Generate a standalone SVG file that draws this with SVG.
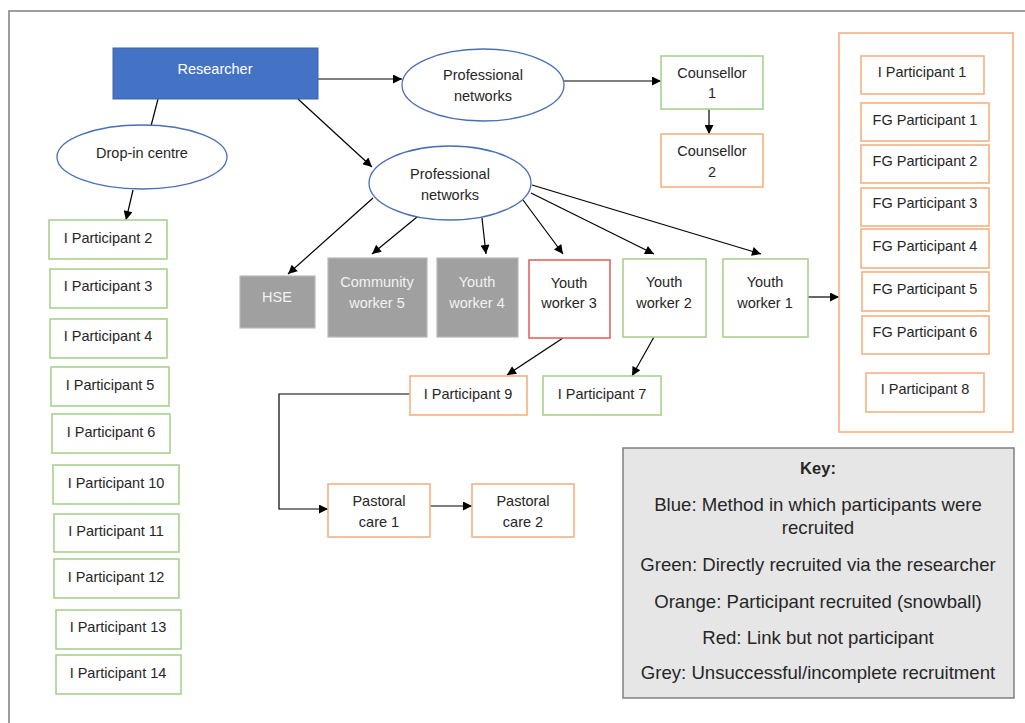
<svg xmlns="http://www.w3.org/2000/svg" width="1025" height="723" viewBox="0 0 1025 723">
<style>
text{font-family:"Liberation Sans",Arial,sans-serif;font-size:14.5px;fill:#262626;text-anchor:middle}
.g{fill:#fff;stroke:#A9D18E;stroke-width:1.6}
.o{fill:#fff;stroke:#F4B183;stroke-width:1.6}
.r{fill:#fff;stroke:#E06666;stroke-width:1.6}
.gr{fill:#A0A0A0;stroke:#B8B8B8;stroke-width:1.2}
.el{fill:#fff;stroke:#4A6FB5;stroke-width:1.3}
.wt{fill:#F2F2F2}
.key{font-size:18.6px}
.c line,.c path{stroke:#000;stroke-width:1.2;fill:none}
.a{marker-end:url(#ah)}
</style>
<defs>
<marker id="ah" viewBox="0 0 10 10" refX="10" refY="5" markerWidth="11" markerHeight="9" markerUnits="userSpaceOnUse" orient="auto">
<path d="M0,0 L10,5 L0,10 z" fill="#000"/>
</marker>
</defs>
<rect x="0" y="0" width="1025" height="723" fill="#fff"/>
<rect x="9" y="11" width="1040" height="730" fill="none" stroke="#7F7F7F" stroke-width="1.5"/>

<g class="c" id="connectors">
<line x1="158" y1="99" x2="151" y2="126"/>
<line class="a" x1="133" y1="190" x2="126" y2="220"/>
<line class="a" x1="318" y1="79" x2="402" y2="79"/>
<line class="a" x1="564" y1="81" x2="661" y2="81"/>
<line class="a" x1="709" y1="109" x2="709" y2="134"/>
<line class="a" x1="298" y1="99" x2="372" y2="167"/>
<line class="a" x1="373" y1="198" x2="288" y2="274"/>
<line class="a" x1="417" y1="217" x2="372" y2="254"/>
<line class="a" x1="482" y1="218" x2="486" y2="254"/>
<line class="a" x1="523" y1="200" x2="563" y2="254"/>
<line class="a" x1="531" y1="193" x2="654" y2="254"/>
<line class="a" x1="532" y1="185" x2="761" y2="254"/>
<line class="a" x1="808" y1="297" x2="839" y2="297"/>
<line class="a" x1="563" y1="338" x2="507" y2="375"/>
<line class="a" x1="654" y1="337" x2="632" y2="376"/>
<path class="a" d="M410,394 H279 V509 H328"/>
<line class="a" x1="430" y1="506" x2="472" y2="506"/>
</g>

<g id="researcher"><rect x="113" y="48" width="205" height="51" fill="#4472C4" stroke="#3B64AD" stroke-width="1"/><text x="215" y="74" style="fill:#fff">Researcher</text></g>
<g id="dropin"><ellipse class="el" cx="142" cy="157" rx="85" ry="32"/><text x="142" y="158">Drop-in centre</text></g>
<g id="pn1"><ellipse class="el" cx="483" cy="85" rx="81" ry="36"/><text x="483" y="80">Professional</text><text x="483" y="101">networks</text></g>
<g id="pn2"><ellipse class="el" cx="450" cy="183" rx="81" ry="37"/><text x="450" y="179">Professional</text><text x="450" y="200">networks</text></g>

<g id="counsellor1"><rect class="g" x="661" y="56" width="102" height="53"/><text x="712" y="78">Counsellor</text><text x="712" y="98">1</text></g>
<g id="counsellor2"><rect class="o" x="661" y="134" width="102" height="53"/><text x="712" y="156">Counsellor</text><text x="712" y="177">2</text></g>

<g id="container"><rect class="o" x="839" y="33" width="174" height="399"/></g>
<g id="ip1"><rect class="o" x="861" y="56" width="123" height="38"/><text x="922" y="77">I Participant 1</text></g>
<g id="fg1"><rect class="o" x="861" y="103" width="128" height="38"/><text x="925" y="125">FG Participant 1</text></g>
<g id="fg2"><rect class="o" x="861" y="145" width="128" height="38"/><text x="925" y="166">FG Participant 2</text></g>
<g id="fg3"><rect class="o" x="861" y="188" width="128" height="38"/><text x="925" y="208">FG Participant 3</text></g>
<g id="fg4"><rect class="o" x="861" y="229" width="128" height="39"/><text x="925" y="251">FG Participant 4</text></g>
<g id="fg5"><rect class="o" x="862" y="272" width="127" height="39"/><text x="925" y="294">FG Participant 5</text></g>
<g id="fg6"><rect class="o" x="862" y="316" width="127" height="38"/><text x="925" y="337">FG Participant 6</text></g>
<g id="ip8"><rect class="o" x="866" y="373" width="118" height="39"/><text x="925" y="394">I Participant 8</text></g>

<g id="hse"><rect class="gr" x="240" y="276" width="75" height="52"/><text class="wt" x="277" y="302">HSE</text></g>
<g id="cw5"><rect class="gr" x="328" y="258" width="99" height="79"/><text class="wt" x="377" y="287">Community</text><text class="wt" x="377" y="308">worker 5</text></g>
<g id="yw4"><rect class="gr" x="437" y="258" width="81" height="79"/><text class="wt" x="477" y="287">Youth</text><text class="wt" x="477" y="308">worker 4</text></g>
<g id="yw3"><rect class="r" x="529" y="260" width="81" height="78"/><text x="569" y="288">Youth</text><text x="569" y="308">worker 3</text></g>
<g id="yw2"><rect class="g" x="623" y="259" width="83" height="78"/><text x="664" y="287">Youth</text><text x="664" y="308">worker 2</text></g>
<g id="yw1"><rect class="g" x="723" y="259" width="85" height="78"/><text x="765" y="287">Youth</text><text x="765" y="308">worker 1</text></g>

<g id="ip9"><rect class="o" x="410" y="376" width="117" height="39"/><text x="468" y="399">I Participant 9</text></g>
<g id="ip7"><rect class="g" x="543" y="376" width="118" height="39"/><text x="602" y="399">I Participant 7</text></g>
<g id="pc1"><rect class="o" x="328" y="484" width="102" height="53"/><text x="379" y="506">Pastoral</text><text x="379" y="527">care 1</text></g>
<g id="pc2"><rect class="o" x="472" y="484" width="102" height="53"/><text x="523" y="506">Pastoral</text><text x="523" y="527">care 2</text></g>

<g id="ip2"><rect class="g" x="49" y="220" width="118" height="39"/><text x="108" y="243">I Participant 2</text></g>
<g id="ip3"><rect class="g" x="50" y="269" width="117" height="39"/><text x="108" y="291">I Participant 3</text></g>
<g id="ip4"><rect class="g" x="50" y="319" width="117" height="39"/><text x="108" y="341">I Participant 4</text></g>
<g id="ip5"><rect class="g" x="51" y="367" width="118" height="39"/><text x="110" y="390">I Participant 5</text></g>
<g id="ip6"><rect class="g" x="52" y="414" width="118" height="39"/><text x="111" y="437">I Participant 6</text></g>
<g id="ip10"><rect class="g" x="53" y="465" width="126" height="39"/><text x="116" y="488">I Participant 10</text></g>
<g id="ip11"><rect class="g" x="54" y="514" width="125" height="38"/><text x="116" y="536">I Participant 11</text></g>
<g id="ip12"><rect class="g" x="54" y="559" width="125" height="39"/><text x="116" y="582">I Participant 12</text></g>
<g id="ip13"><rect class="g" x="56" y="610" width="125" height="39"/><text x="118" y="632">I Participant 13</text></g>
<g id="ip14"><rect class="g" x="56" y="655" width="125" height="39"/><text x="118" y="678">I Participant 14</text></g>

<g id="key">
<rect x="623" y="448" width="391" height="250" fill="#E7E6E6" stroke="#7F7F7F" stroke-width="1.5"/>
<text x="818" y="474" style="font-weight:bold;font-size:16.5px">Key:</text>
<text class="key" x="818" y="511">Blue: Method in which participants were</text>
<text class="key" x="818" y="534">recruited</text>
<text class="key" x="818" y="571">Green: Directly recruited via the researcher</text>
<text class="key" x="818" y="608">Orange: Participant recruited (snowball)</text>
<text class="key" x="818" y="644">Red: Link but not participant</text>
<text class="key" x="818" y="679">Grey: Unsuccessful/incomplete recruitment</text>
</g>
</svg>
